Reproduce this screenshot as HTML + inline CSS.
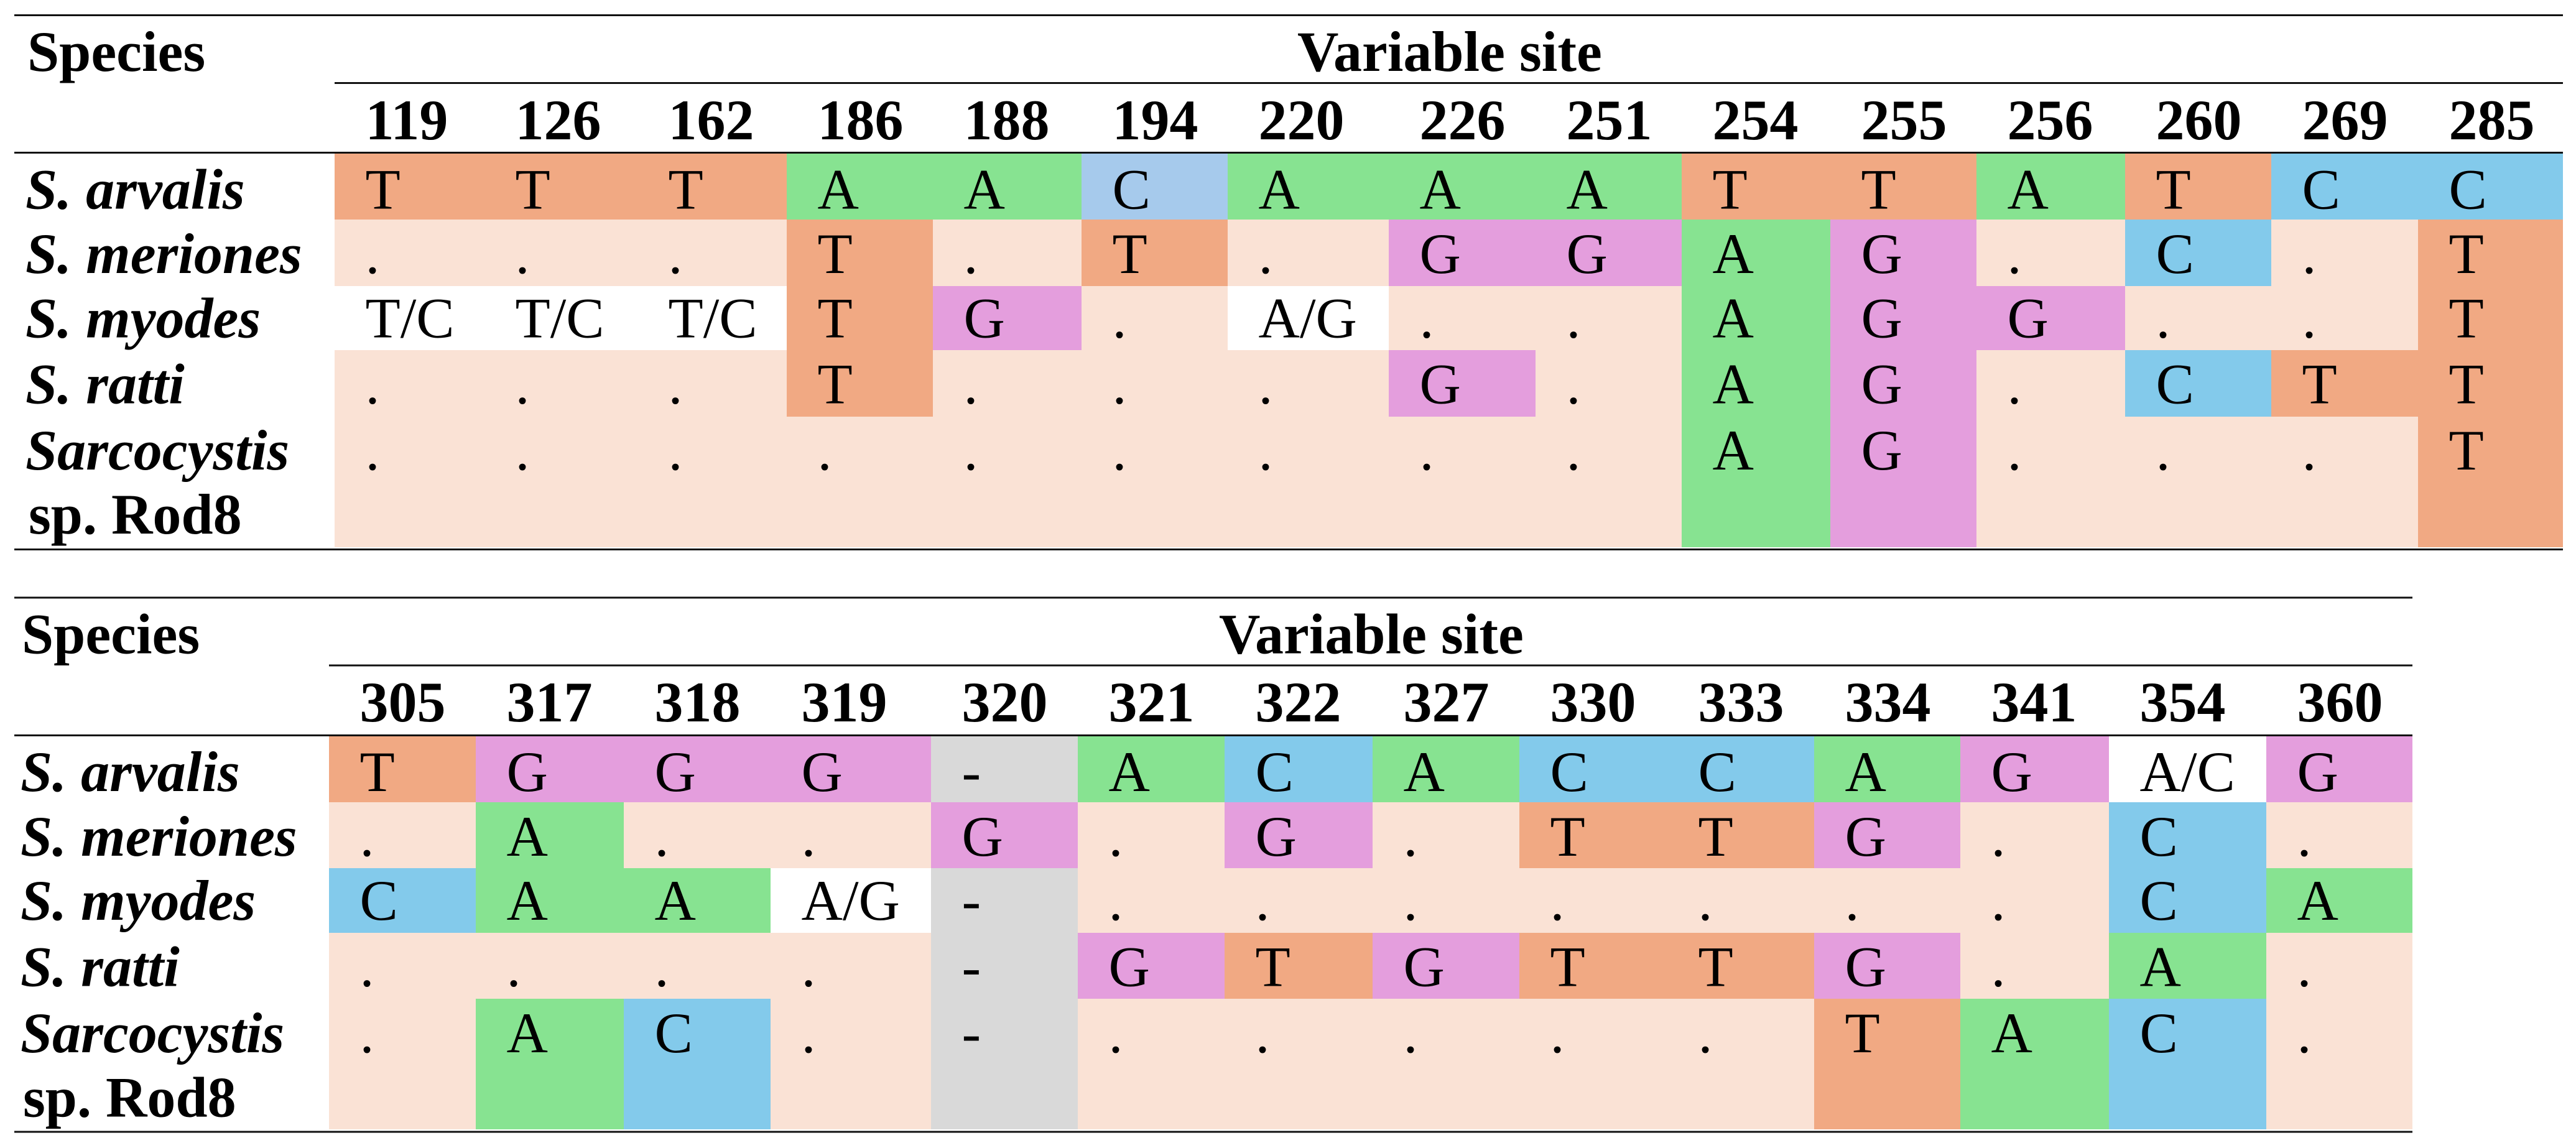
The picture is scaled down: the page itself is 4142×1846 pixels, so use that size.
<!DOCTYPE html>
<html lang="en">
<head>
<meta charset="utf-8">
<title>Variable sites in Sarcocystis species</title>
<style>
  html, body { margin: 0; padding: 0; background: #fff; }
  #figure { display: block; width: 4142px; height: 1846px; }
  text { font-family: "Liberation Serif", "Times New Roman", serif; font-size: 92px; fill: #000; }
  .bold { font-weight: bold; }
  .bi { font-weight: bold; font-style: italic; }
</style>
</head>
<body>
<svg id="figure" xmlns="http://www.w3.org/2000/svg" width="4142" height="1846" viewBox="0 0 4142 1846"></svg>
<script>
// ---- Data ----
const speciesNames = ["S. arvalis", "S. meriones", "S. myodes", "S. ratti", "Sarcocystis"];
const speciesSecondLine = ["", "", "", "", "sp. Rod8"];

const sitesA = ["119","126","162","186","188","194","220","226","251","254","255","256","260","269","285"];
const basesA = [
  ["T","T","T","A","A","C","A","A","A","T","T","A","T","C","C"],
  [".",".",".","T",".","T",".","G","G","A","G",".","C",".","T"],
  ["T/C","T/C","T/C","T","G",".","A/G",".",".","A","G","G",".",".","T"],
  [".",".",".","T",".",".",".","G",".","A","G",".","C","T","T"],
  [".",".",".",".",".",".",".",".",".","A","G",".",".",".","T"]
];

const sitesB = ["305","317","318","319","320","321","322","327","330","333","334","341","354","360"];
const basesB = [
  ["T","G","G","G","-","A","C","A","C","C","A","G","A/C","G"],
  [".","A",".",".","G",".","G",".","T","T","G",".","C","."],
  ["C","A","A","A/G","-",".",".",".",".",".",".",".","C","A"],
  [".",".",".",".","-","G","T","G","T","T","G",".","A","."],
  [".","A","C",".","-",".",".",".",".",".","T","A","C","."]
];

// ---- Layout (separate from the data) ----
const layoutA = {
  key: "top",
  columnEdges: [538,779,1025,1265,1500,1739,1974,2233,2469,2704,2943,3178,3417,3652,3888,4121],
  rowEdges: [247,353,460,563,670,880],
  baselines: [335.5,439,542.5,648.5,755],
  secondBaseline: 858,
  lineLeft: 23, lineRight: 4121,
  topLine: 24.5, midLine: 133.5, headLine: 245.5, bottomLine: 883.5,
  titleBaseline: 114, siteBaseline: 224,
  titleX: 2086, speciesX: 44, labelX: 41, rod8X: 46
};
const layoutB = {
  key: "bottom",
  columnEdges: [529,765,1003,1239,1497,1733,1969,2207,2443,2681,2917,3152,3391,3644,3879],
  rowEdges: [1184,1290,1396,1500,1606,1816],
  baselines: [1272,1376,1479,1585.5,1692],
  secondBaseline: 1795.5,
  lineLeft: 23, lineRight: 3879,
  topLine: 961, midLine: 1070, headLine: 1182.5, bottomLine: 1820,
  titleBaseline: 1050.5, siteBaseline: 1160,
  titleX: 1960, speciesX: 35, labelX: 33, rod8X: 37
};

const baseColors = {
  "T": "#F1A983",
  "A": "#87E391",
  "C": "#83CAEB",
  "G": "#E49EDD",
  ".": "#FAE2D5",
  "-": "#D9D9D9"
};
const lightBlueOverride = "#A6CAEC";

const SVG_NS = "http://www.w3.org/2000/svg";
const figure = document.getElementById("figure");

function fillFor(base) {
  return baseColors[base] || "#FFFFFF";
}

function addText(content, x, y, cls) {
  const t = document.createElementNS(SVG_NS, "text");
  t.setAttribute("x", x);
  t.setAttribute("y", y);
  if (cls) t.setAttribute("class", cls);
  t.textContent = content;
  figure.appendChild(t);
  return t;
}

function addLine(x1, x2, y) {
  const l = document.createElementNS(SVG_NS, "rect");
  l.setAttribute("x", x1);
  l.setAttribute("y", y - 1.5);
  l.setAttribute("width", x2 - x1);
  l.setAttribute("height", 3);
  l.setAttribute("fill", "#111");
  figure.appendChild(l);
  return l;
}

function drawTable(sites, bases, layout) {
  const xAt = function (i) { return layout.columnEdges[i]; };
  const yAt = function (i) { return layout.rowEdges[i]; };
  const baseOffset = 49.5;
  const siteOffset = 49.5;

  bases.forEach(function (row, r) {
    row.forEach(function (base, c) {
      const cell = document.createElementNS(SVG_NS, "rect");
      cell.setAttribute("x", xAt(c));
      cell.setAttribute("y", yAt(r));
      cell.setAttribute("width", xAt(c + 1) - xAt(c));
      cell.setAttribute("height", yAt(r + 1) - yAt(r));
      let fill = fillFor(base);
      if (layout.key === "top" && r === 0 && sites[c] === "194") fill = lightBlueOverride;
      cell.setAttribute("fill", fill);
      cell.setAttribute("shape-rendering", "crispEdges");
      
      
      figure.appendChild(cell);

      const label = addText(base, xAt(c) + baseOffset, layout.baselines[r]);
      
      
    });
  });

  sites.forEach(function (site, c) {
    const siteLabel = addText(site, xAt(c) + siteOffset, layout.siteBaseline, "bold");
    
    
  });

  speciesNames.forEach(function (name, r) {
    const nameLabel = addText(name, layout.labelX, layout.baselines[r], "bi");
    
    
    if (speciesSecondLine[r]) {
      const second = addText(speciesSecondLine[r], layout.rod8X, layout.secondBaseline, "bold");
      
      
    }
  });

  const speciesHead = addText("Species", layout.speciesX, layout.titleBaseline, "bold");
  
  

  const siteHead = addText("Variable site", layout.titleX, layout.titleBaseline, "bold");
  
  

  const top = addLine(layout.lineLeft, layout.lineRight, layout.topLine);
  
  

  const mid = addLine(layout.columnEdges[0], layout.lineRight, layout.midLine);
  
  

  const head = addLine(layout.lineLeft, layout.lineRight, layout.headLine);
  
  

  const bottom = addLine(layout.lineLeft, layout.lineRight, layout.bottomLine);
  
  
}

drawTable(sitesA, basesA, layoutA);
drawTable(sitesB, basesB, layoutB);
</script>
</body>
</html>
